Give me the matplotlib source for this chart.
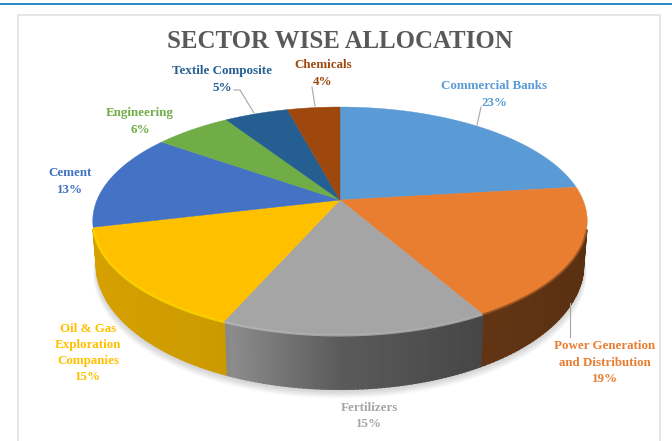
import numpy as np
import matplotlib
matplotlib.use("Agg")
import matplotlib.pyplot as plt
from matplotlib.colors import to_rgb

sectors = ["Commercial Banks", "Power Generation\nand Distribution", "Fertilizers",
           "Oil & Gas\nExploration\nCompanies", "Cement", "Engineering",
           "Textile Composite", "Chemicals"]
pct_labels = ["23%", "19%", "15%", "15%", "13%", "6%", "5%", "4%"]
# slice sizes, the labels are rounded
slices = [23.1, 18.7, 14.7, 14.7, 13.7, 6.0, 5.0, 4.1]
colors = ["#5B9BD5", "#E97D30", "#A5A5A5", "#FFC000", "#4472C4", "#70AD47", "#255E91", "#9E480E"]
label_xy = [(494, 94.5), (605, 362.5), (369, 416), (88, 353), (70, 181.5), (140, 121.5), (222, 79.5), (323, 73.5)]
leaders = [[(481, 107), (477, 125)],
           [(570, 303), (570, 337)],
           [(234, 90), (240, 90), (254, 113)],
           [(312, 87), (315, 106)]]

# pie tilted with perspective, so the apex sits above the middle of the ellipse
cx, cy = 340, 200
k = 243
a, c = -73.3, 0.184
wall_from = -0.25  # wall is hidden behind the top face above this


def top_xy(u, v):
    w = c * v + 1
    return cx + k * u / w, (a * v + cy) / w


def bottom_xy(u, v):
    x, y = top_xy(u, v)
    depth = 40 + 14 * np.clip(-v, 0, 1)
    return cx + (x - cx) * 0.985, y + depth


def wall_shade(u):
    return np.interp(u, [-1, -0.4, -0.38, 0, 0.5, 1], [0.84, 0.80, 0.85, 0.55, 0.42, 0.38])


fig = plt.figure(figsize=(6.72, 4.41), dpi=100)
ax = fig.add_axes([0, 0, 1, 1])
ax.set_xlim(0, 672)
ax.set_ylim(441, 0)
ax.axis("off")

plt.rcParams["font.family"] = ["Liberation Serif", "DejaVu Serif"]

# page rule and chart frame
ax.plot([0, 672], [4, 4], color="#1580C4", lw=1.3)
ax.plot([18, 18, 660, 660], [441, 15, 15, 441], color="#E4E4E4", lw=1.3)

# soft shadow under the pie
t = np.linspace(0, 2 * np.pi, 300)
for grow in np.linspace(1, 12, 12):
    sx, sy = bottom_xy(np.sin(t), np.cos(t))
    ax.fill(cx + (sx - cx) * (1 + grow / 900), sy + 1 + grow * 0.7,
            color="#808080", alpha=0.03, lw=0, zorder=1)

edges = np.cumsum([0] + slices) / sum(slices) * 2 * np.pi

# side wall, drawn as thin strips so the shading runs along the rim
for i, col in enumerate(colors):
    base = np.array(to_rgb(col))
    th = np.linspace(edges[i], edges[i + 1], 60)
    for t0, t1 in zip(th[:-1], th[1:]):
        if np.cos((t0 + t1) / 2) > wall_from:
            continue
        x0, y0 = top_xy(np.sin(t0), np.cos(t0))
        x1, y1 = top_xy(np.sin(t1), np.cos(t1))
        x2, y2 = bottom_xy(np.sin(t1), np.cos(t1))
        x3, y3 = bottom_xy(np.sin(t0), np.cos(t0))
        shade = wall_shade(np.sin((t0 + t1) / 2))
        ax.fill([x0, x1, x2, x3], [y0, y1, y2, y3], color=base * shade, lw=1.5, zorder=2)

# top face
for i, col in enumerate(colors):
    th = np.linspace(edges[i], edges[i + 1], 120)
    x, y = top_xy(np.sin(th), np.cos(th))
    ax.fill(np.r_[cx, x], np.r_[cy, y], color=col, lw=0.3, zorder=3)

# lighter bevel on the front rim
rim = {1: "#9A5424", 2: "#BDBDBD", 3: "#FFDD00"}
for i, col in rim.items():
    th = np.linspace(edges[i], edges[i + 1], 120)
    th = th[np.cos(th) < wall_from]
    x, y = top_xy(np.sin(th), np.cos(th))
    ax.plot(x, y + 0.5, color=col, lw=1.6, alpha=0.7, zorder=4, solid_capstyle="butt")

for pts in leaders:
    xs, ys = zip(*pts)
    ax.plot(xs, ys, color="#A6A6A6", lw=0.8, zorder=5)

ax.text(340, 42, "SECTOR WISE ALLOCATION", color="#595959", fontsize=17.9, fontweight="bold",
        ha="center", va="center", zorder=6)

for name, pct, col, (lx, ly) in zip(sectors, pct_labels, colors, label_xy):
    ax.text(lx, ly, name + "\n" + pct, color=col, fontsize=9.4, fontweight="bold",
            ha="center", va="center", linespacing=1.45, zorder=6)

fig.savefig("out.png", dpi=100)
